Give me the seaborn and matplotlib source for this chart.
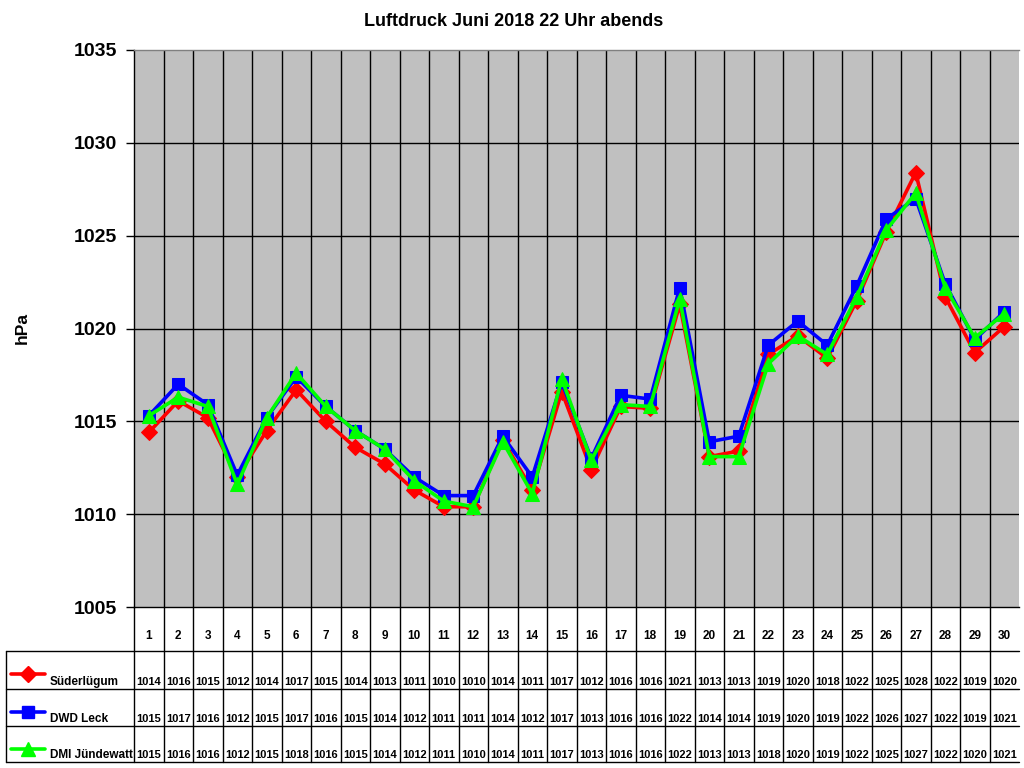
import numpy as np
import pandas as pd
import matplotlib
matplotlib.use("Agg")
import matplotlib.pyplot as plt
import seaborn as sns

# data (hPa at 22 Uhr)
tage = list(range(1, 31))
suederluegum = [1014.4, 1016.1, 1015.2, 1012.0, 1014.5, 1016.7, 1015.0, 1013.6, 1012.7, 1011.3,
                1010.4, 1010.4, 1014.0, 1011.3, 1016.6, 1012.4, 1015.8, 1015.7, 1021.3, 1013.1,
                1013.4, 1018.6, 1019.6, 1018.4, 1021.5, 1025.2, 1028.4, 1021.7, 1018.7, 1020.1]
dwd_leck = [1015.3, 1017.0, 1015.9, 1012.1, 1015.2, 1017.4, 1015.8, 1014.5, 1013.5, 1012.0,
            1011.0, 1011.0, 1014.2, 1012.0, 1017.1, 1013.0, 1016.4, 1016.2, 1022.2, 1013.9,
            1014.2, 1019.1, 1020.4, 1019.1, 1022.3, 1025.9, 1027.0, 1022.4, 1019.4, 1020.9]
dmi_juendewatt = [1015.3, 1016.3, 1015.8, 1011.6, 1015.2, 1017.6, 1015.8, 1014.5, 1013.5, 1011.8,
                  1010.7, 1010.4, 1013.9, 1011.1, 1017.3, 1012.9, 1015.9, 1015.8, 1021.6, 1013.1,
                  1013.1, 1018.1, 1019.6, 1018.6, 1021.7, 1025.3, 1027.3, 1022.2, 1019.5, 1020.8]
# rounded values shown in the data table
tab_sued = [1014, 1016, 1015, 1012, 1014, 1017, 1015, 1014, 1013, 1011, 1010, 1010, 1014, 1011, 1017,
            1012, 1016, 1016, 1021, 1013, 1013, 1019, 1020, 1018, 1022, 1025, 1028, 1022, 1019, 1020]
tab_dwd = [1015, 1017, 1016, 1012, 1015, 1017, 1016, 1015, 1014, 1012, 1011, 1011, 1014, 1012, 1017,
           1013, 1016, 1016, 1022, 1014, 1014, 1019, 1020, 1019, 1022, 1026, 1027, 1022, 1019, 1021]
tab_dmi = [1015, 1016, 1016, 1012, 1015, 1018, 1016, 1015, 1014, 1012, 1011, 1010, 1014, 1011, 1017,
           1013, 1016, 1016, 1022, 1013, 1013, 1018, 1020, 1019, 1022, 1025, 1027, 1022, 1020, 1021]

namen = ["Süderlügum", "DWD Leck", "DMI Jündewatt"]
farben = ["#FF0000", "#0000FF", "#00FF00"]
marker = ["D", "s", "^"]
msize = [8, 9, 10]

sns.set_style("white")
plt.rcParams['font.family'] = ['Liberation Sans', 'DejaVu Sans']
plt.rcParams['font.weight'] = 'bold'
plt.rcParams['text.color'] = 'black'
plt.rcParams['ytick.color'] = 'black'
plt.rcParams['ytick.labelcolor'] = 'black'

W, H = 1024, 768
fig = plt.figure(figsize=(W / 100, H / 100), dpi=100)
fig.patch.set_facecolor("white")

left, right, top, bottom = 134, 1019, 50, 607
ax = fig.add_axes([left / W, 1 - bottom / H, (right - left) / W, (bottom - top) / H])
ax.set_facecolor("#C0C0C0")

serien = [suederluegum, dwd_leck, dmi_juendewatt]
for name, werte, c, m, s in zip(namen, serien, farben, marker, msize):
    sns.lineplot(x=tage, y=werte, ax=ax, color=c, marker=m, markersize=s,
                 markeredgecolor=c, linewidth=2.6, label=name, legend=False, zorder=3)

ax.set_xlim(0.5, 30.5)
ax.set_ylim(1005, 1035)
ax.set_yticks(range(1005, 1036, 5))
ax.set_yticklabels([str(v) for v in range(1005, 1036, 5)], fontsize=14, fontweight='bold')
ax.set_xticks([])
ax.tick_params(axis='y', direction='out', length=6, width=1, color='black', pad=6, left=True)
for y in range(1010, 1035, 5):
    ax.axhline(y, color='black', linewidth=1, zorder=1)
for x in np.arange(1.5, 30, 1):
    ax.axvline(x, color='black', linewidth=1, zorder=1)
ax.spines['left'].set_color('black')
ax.spines['bottom'].set_color('black')
ax.spines['top'].set_color('#808080')
ax.spines['right'].set_visible(False)
for sp in ax.spines.values():
    sp.set_linewidth(1)
ax.set_xlabel("")
ax.set_ylabel("")

fig.text(514 / W, 1 - 21 / H, "Luftdruck Juni 2018 22 Uhr abends", ha='center', va='center',
         fontsize=13, fontweight='bold')
fig.text(22 / W, 1 - 328 / H, "hPa", ha='center', va='center', rotation=90,
         fontsize=12.5, fontweight='bold')

# data table below the plot, y in pixel rows
tab_top, tab_bot = 607, 762
tab = fig.add_axes([left / W, 1 - tab_bot / H, (right - left) / W, (tab_bot - tab_top) / H])
tab.set_xlim(0.5, 30.5)
tab.set_ylim(tab_bot, tab_top)
tab.axis('off')


def px2x(px):
    return 0.5 + (px - left) / ((right - left) / 30)


zeilen = [651, 689, 726, 762]
x_l = px2x(6)
for yy in zeilen:
    tab.plot([x_l, 30.5], [yy, yy], color='black', linewidth=1, clip_on=False)
tab.plot([x_l, x_l], [zeilen[0], zeilen[-1]], color='black', linewidth=1, clip_on=False)
for x in np.arange(0.5, 30, 1):
    tab.plot([x, x], [tab_top, tab_bot], color='black', linewidth=1, clip_on=False)

for t in tage:
    tab.text(t, 636, str(t), ha='center', va='center', fontsize=8.5, fontweight='bold')

tabwerte = [tab_sued, tab_dwd, tab_dmi]
for i, (name, werte, c, m, s) in enumerate(zip(namen, tabwerte, farben, marker, msize)):
    y0, y1 = zeilen[i], zeilen[i + 1]
    for t, v in zip(tage, werte):
        tab.text(t, y1 - 4, str(v), ha='center', va='baseline', fontsize=8,
                 fontweight='bold', clip_on=False)
    ym = y0 + 23
    tab.plot([px2x(11), px2x(45)], [ym, ym], color=c, linewidth=2.6, clip_on=False)
    tab.plot([px2x(28)], [ym], marker=m, color=c, markersize=s, clip_on=False)
    tab.text(px2x(50), y1 - 4, name, ha='left', va='baseline', fontsize=8.5,
             fontweight='bold', clip_on=False)

fig.savefig("out.png", dpi=100)
